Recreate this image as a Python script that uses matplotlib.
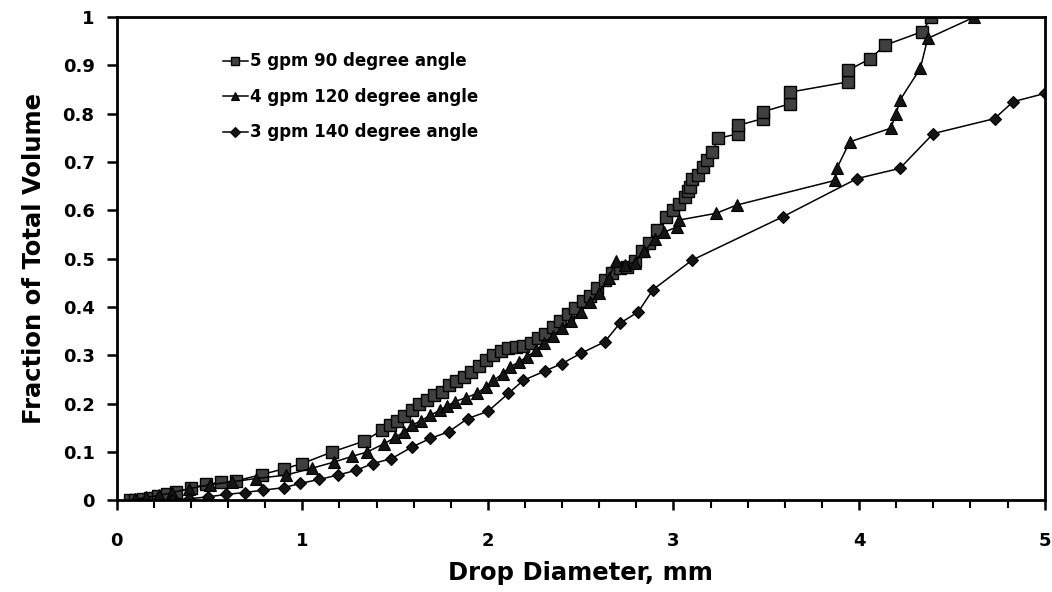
import matplotlib
matplotlib.use("Agg")
import matplotlib.pyplot as plt
from matplotlib.ticker import MultipleLocator, FuncFormatter

plt.rcParams['font.family'] = ['DejaVu Sans']
plt.rcParams['font.weight'] = 'bold'

# 5 gpm 90 degree angle (squares)
x_s = [0.07,0.10,0.14,0.18,0.22,0.27,0.32,0.40,0.48,0.56,
       0.64,0.78,0.90,1.00,1.16,1.33,1.43,1.47,1.51,1.55,
       1.59,1.63,1.67,1.71,1.75,1.79,1.83,1.87,1.91,1.95,
       1.99,2.03,2.07,2.11,2.15,2.19,2.23,2.27,2.31,2.35,
       2.39,2.43,2.47,2.51,2.55,2.59,2.63,2.67,2.71,2.75,
       2.79,2.83,2.87,2.91,2.96,3.00,3.03,3.06,3.08,3.09,
       3.10,3.13,3.16,3.18,3.21,3.24,3.35,3.35,3.48,3.48,
       3.63,3.63,3.94,3.94,4.06,4.14,4.34,4.39]
y_s = [0.000,0.001,0.003,0.005,0.008,0.012,0.017,0.025,0.033,0.037,
       0.040,0.053,0.065,0.076,0.100,0.122,0.145,0.155,0.165,0.175,
       0.186,0.200,0.208,0.217,0.225,0.238,0.246,0.256,0.266,0.278,
       0.290,0.300,0.308,0.315,0.318,0.320,0.325,0.335,0.345,0.358,
       0.372,0.385,0.398,0.412,0.422,0.440,0.455,0.470,0.480,0.483,
       0.495,0.515,0.532,0.559,0.587,0.600,0.614,0.628,0.640,0.649,
       0.665,0.673,0.690,0.705,0.720,0.749,0.759,0.776,0.790,0.804,
       0.821,0.845,0.866,0.890,0.914,0.942,0.970,1.000]

# 4 gpm 120 degree angle (triangles)
x_t = [0.10,0.16,0.23,0.30,0.39,0.50,0.62,0.75,0.91,1.05,
       1.17,1.27,1.35,1.44,1.50,1.55,1.59,1.64,1.69,1.74,
       1.78,1.82,1.88,1.94,1.99,2.03,2.08,2.12,2.17,2.21,
       2.26,2.30,2.35,2.40,2.45,2.50,2.55,2.60,2.65,2.69,
       2.74,2.79,2.84,2.90,2.95,3.02,3.03,3.23,3.34,3.87,
       3.88,3.95,4.17,4.20,4.22,4.33,4.37,4.62]
y_t = [0.002,0.006,0.010,0.016,0.024,0.032,0.038,0.045,0.052,0.066,
       0.079,0.091,0.100,0.117,0.130,0.142,0.155,0.165,0.176,0.186,
       0.195,0.204,0.212,0.221,0.235,0.248,0.262,0.276,0.287,0.297,
       0.310,0.325,0.340,0.356,0.372,0.390,0.410,0.430,0.460,0.495,
       0.488,0.492,0.515,0.540,0.555,0.566,0.580,0.594,0.611,0.662,
       0.687,0.742,0.770,0.800,0.828,0.894,0.956,1.000]

# 3 gpm 140 degree angle (diamonds)
x_d = [0.30,0.39,0.49,0.59,0.69,0.79,0.90,0.99,1.09,1.19,
       1.29,1.38,1.48,1.59,1.69,1.79,1.89,2.00,2.11,2.19,
       2.31,2.40,2.50,2.63,2.71,2.81,2.89,3.10,3.59,3.99,
       4.22,4.40,4.73,4.83,5.00]
y_d = [0.001,0.003,0.007,0.012,0.016,0.021,0.026,0.035,0.043,0.052,
       0.062,0.076,0.086,0.110,0.128,0.142,0.169,0.184,0.221,0.248,
       0.268,0.283,0.304,0.328,0.366,0.390,0.436,0.497,0.587,0.666,
       0.687,0.759,0.790,0.825,0.842]

labels = ["5 gpm 90 degree angle", "4 gpm 120 degree angle", "3 gpm 140 degree angle"]

fig = plt.figure(figsize=(10.52, 5.92), dpi=100)
ax = fig.add_axes([0.111, 0.155, 0.882, 0.816])

ax.plot(x_s, y_s, color='black', lw=1.1, marker='s', ms=8,
        mfc='#404040', mec='black', mew=1.0, label=labels[0])
ax.plot(x_t, y_t, color='black', lw=1.1, marker='^', ms=8,
        mfc='#151515', mec='black', mew=0.8, label=labels[1])
ax.plot(x_d, y_d, color='black', lw=1.1, marker='D', ms=6,
        mfc='#151515', mec='black', mew=0.8, label=labels[2])

ax.set_xlim(0, 5)
ax.set_ylim(0, 1)
ax.xaxis.set_major_locator(MultipleLocator(1))
ax.xaxis.set_minor_locator(MultipleLocator(0.2))
ax.yaxis.set_major_locator(MultipleLocator(0.1))
ax.yaxis.set_major_formatter(FuncFormatter(lambda v, p: ('%g' % round(v, 1))))

for s in ax.spines.values():
    s.set_linewidth(2.0)
    s.set_color('black')

ax.tick_params(axis='both', which='major', direction='out', length=7, width=1.8,
               labelsize=13, pad=9)
ax.tick_params(axis='x', which='minor', direction='out', length=6, width=1.5)
ax.tick_params(axis='x', which='major', pad=16)
for lab in ax.get_xticklabels() + ax.get_yticklabels():
    lab.set_fontweight('bold')

ax.set_xlabel("Drop Diameter, mm", fontsize=17.5, fontweight='bold', labelpad=8)
ax.set_ylabel("Fraction of Total Volume", fontsize=17.5, fontweight='bold', labelpad=12)

leg = ax.legend(loc='upper left', bbox_to_anchor=(0.098, 0.958), frameon=False,
                handlelength=1.5, handletextpad=0.15, labelspacing=1.05,
                markerscale=0.8, prop={'weight': 'bold', 'size': 12})

fig.savefig("out.png", dpi=100, facecolor='white')
